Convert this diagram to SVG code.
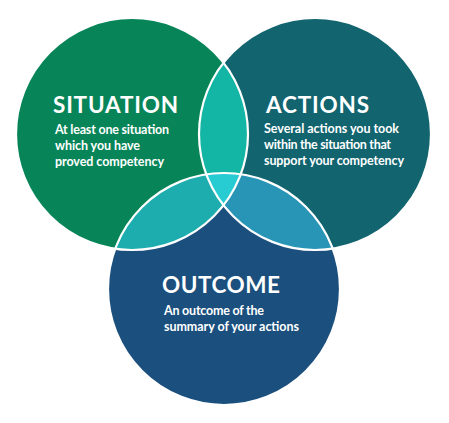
<svg xmlns="http://www.w3.org/2000/svg" width="449" height="423" viewBox="0 0 449 423">
<style>
.title{font-family:Lato,"Liberation Sans",sans-serif;font-weight:700;font-size:22.5px;fill:#fff}
.sub{font-family:Lato,"Liberation Sans",sans-serif;font-weight:700;font-size:12.5px;fill:#fff}
.outline{fill:none;stroke:#fff;stroke-width:2.2}
</style>
<defs>
<clipPath id="cL"><circle cx="132" cy="134" r="116"/></clipPath>
<clipPath id="cR"><circle cx="315" cy="134" r="116"/></clipPath>
<clipPath id="cB"><circle cx="224" cy="289" r="116"/></clipPath>
</defs>
<rect width="449" height="423" fill="#fff"/>
<g id="situation">
<circle cx="132" cy="134" r="116" fill="#078559"/>
<text class="title" x="53" y="113" textLength="125">SITUATION</text>
<text class="sub" x="55" y="134" textLength="114">At least one situation</text>
<text class="sub" x="55" y="150" textLength="85">which you have</text>
<text class="sub" x="55" y="166" textLength="109">proved competency</text>
</g>
<g id="actions">
<circle cx="315" cy="134" r="116" fill="#12646F"/>
<text class="title" x="266" y="113" textLength="103">ACTIONS</text>
<text class="sub" x="264" y="133" textLength="135">Several actions you took</text>
<text class="sub" x="264" y="149" textLength="127">within the situation that</text>
<text class="sub" x="264" y="165" textLength="140">support your competency</text>
</g>
<g id="outcome">
<circle cx="224" cy="289" r="116" fill="#1B4F7D"/>
<text class="title" x="162" y="293" textLength="118">OUTCOME</text>
<text class="sub" x="164" y="315" textLength="100">An outcome of the</text>
<text class="sub" x="164" y="331" textLength="135">summary of your actions</text>
</g>
<g id="overlaps">
<circle cx="315" cy="134" r="116" fill="#13B5A4" clip-path="url(#cL)"/>
<circle cx="224" cy="289" r="116" fill="#1DADAE" clip-path="url(#cL)"/>
<circle cx="224" cy="289" r="116" fill="#2894B6" clip-path="url(#cR)"/>
<g clip-path="url(#cL)"><circle cx="224" cy="289" r="116" fill="#27CCD3" clip-path="url(#cR)"/></g>
</g>
<g id="outlines">
<circle class="outline" cx="132" cy="134" r="116"/>
<circle class="outline" cx="315" cy="134" r="116"/>
<circle class="outline" cx="224" cy="289" r="116"/>
</g>
</svg>
